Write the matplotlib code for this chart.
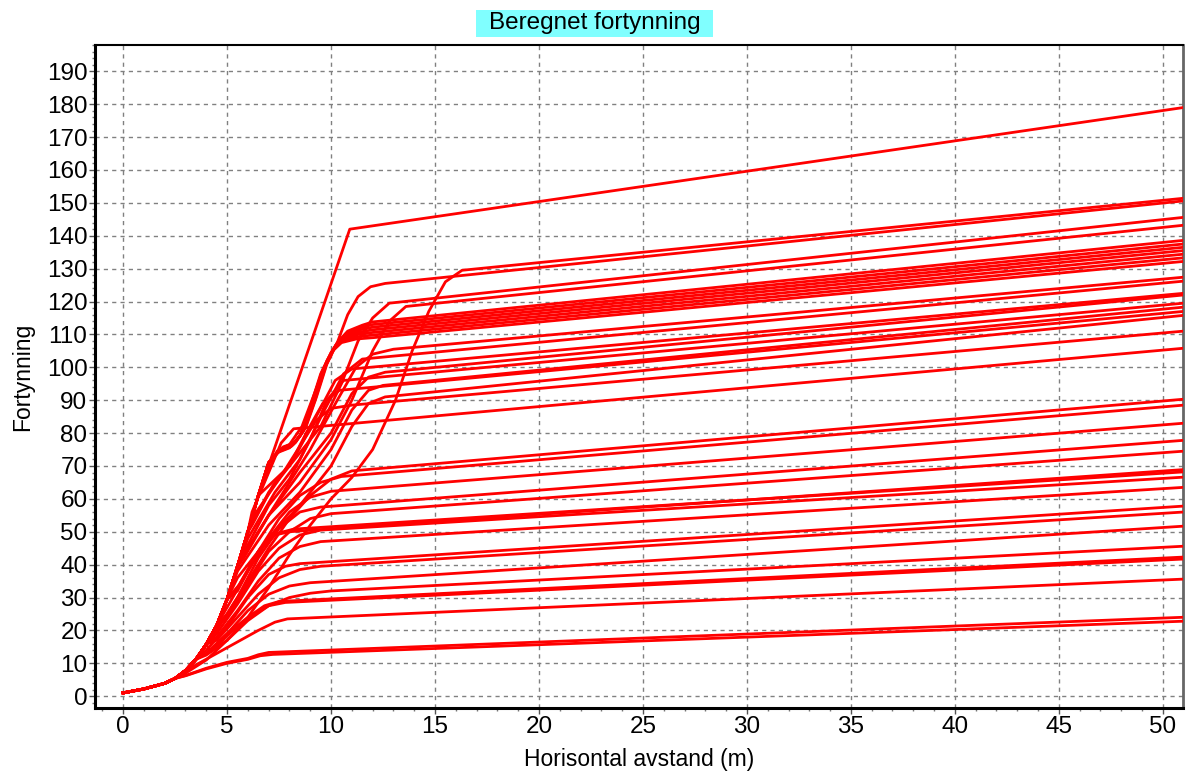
# Beregnet fortynning - dilution vs horizontal distance, one red curve per case
import matplotlib
matplotlib.use('Agg')
import matplotlib.pyplot as plt
from matplotlib.patches import Rectangle
from matplotlib.ticker import MultipleLocator

plt.rcParams['font.family'] = ['Liberation Sans', 'DejaVu Sans']

# shared steep start that most curves follow before they bend off
trunk_x = [0, 1, 2, 2.5, 3, 3.5, 4, 4.5, 5, 5.5, 6, 6.5, 7]
trunk_y = [1, 2.2, 3.9, 5.4, 7.8, 11.2, 15.8, 21.5, 29.5, 39.5, 50, 61, 71]

# x where each curve leaves the trunk, own points after that, value at end of range
leave_x = [6.5,
           7, 7, 7, 7, 7, 7, 7,
           2.5, 6.5, 6.5, 5.5,
           5.5, 5.5, 6, 5.5, 5.5, 5, 6, 5, 6, 6,
           4.5, 5, 4.5, 4, 4.5, 5, 5, 4, 4, 3.5, 4, 3.5, 3.5, 3.5, 4, 3, 2.5, 2.5]

path_x = [
    [10.9],
    [7.4, 8.0, 8.5, 9.0, 9.5, 10.0, 10.5, 11.2, 12.0],
    [7.45, 8.05, 8.55, 9.05, 9.55, 10.05, 10.55, 11.25, 12.0],
    [7.5, 8.1, 8.6, 9.1, 9.6, 10.1, 10.6, 11.3, 12.0],
    [7.55, 8.15, 8.65, 9.15, 9.65, 10.15, 10.65, 11.35, 12.0],
    [7.6, 8.2, 8.7, 9.2, 9.7, 10.2, 10.7, 11.4, 12.0],
    [7.65, 8.25, 8.75, 9.25, 9.75, 10.25, 10.75, 11.45, 12.0],
    [7.7, 8.3, 8.8, 9.3, 9.8, 10.3, 10.8, 11.5, 12.0],
    [3, 4, 5, 6, 7, 8, 9, 10, 11, 12, 13.1, 13.9, 14.7, 15.5, 16.3],
    [7.4, 8.0, 8.6, 9.2, 9.8, 10.3, 10.8, 11.3, 11.9, 12.6],
    [8, 9.5, 10.5, 11.3, 12, 12.8],
    [7, 8.5, 10, 11, 12, 12.8, 13.6],
    [6, 7.5, 9, 10.3, 11.2, 12, 13],
    [6, 7.3, 8.5, 9.6, 10.6, 11.5],
    [6.2, 7.2, 8.2, 9.2, 10.2, 11],
    [5.8, 7, 8.5, 10, 11, 11.8, 12.6],
    [6, 7, 8, 9, 9.8, 10.6],
    [5.5, 7, 8.5, 10, 11, 11.8, 12.5],
    [6, 7, 8, 8.8, 9.6, 10.4],
    [5.5, 7, 8.5, 10, 11, 11.8, 12.6],
    [6.3, 7.5, 8.5, 9.3, 10, 11],
    [6.2, 7, 7.6, 8.2],
    [5, 6, 7, 8, 9, 10, 11],
    [5.5, 6.5, 7.5, 8.5, 9.5, 10.5],
    [5, 6, 7, 8, 9, 10],
    [4.5, 5.5, 6.5, 7.5, 8.5, 9.5],
    [5, 6, 7, 8, 9, 10],
    [5.5, 6.5, 7.3, 8],
    [5.6, 6.6, 7.4, 8.2],
    [4.5, 5.5, 6.5, 7.5, 8.5, 9.5],
    [4.5, 5.5, 6.5, 7.5, 8.5, 9.5],
    [4, 5, 6, 7, 7.8, 8.5],
    [4.5, 5.5, 6.5, 7.5, 8.5, 9.5],
    [4, 5, 6, 7, 8, 9],
    [4, 5, 6, 7, 8, 9, 10],
    [4, 5, 6, 6.8, 7.5],
    [4.2, 5.2, 6.2, 7, 7.8],
    [3.5, 4.5, 5.5, 6.5, 7.3, 7.9],
    [3, 4, 5, 6, 6.5, 7],
    [3, 4, 5, 6, 6.6, 7.2],
]
path_y = [
    [142],
    [74.0, 75.5, 79, 88, 98, 104.5, 107.5, 108.6, 109.0],
    [74.3, 75.8, 79.5, 88.5, 98.5, 105, 108, 109.3, 109.8],
    [74.6, 76.0, 80, 89, 99, 105.5, 108.6, 110.0, 110.6],
    [74.9, 76.3, 80.5, 89.5, 99.5, 106, 109.2, 110.7, 111.4],
    [75.2, 76.6, 81, 90, 100, 106.5, 109.8, 111.4, 112.2],
    [75.5, 76.9, 81.5, 90.5, 100.5, 107, 110.4, 112.1, 113.0],
    [75.8, 77.2, 82, 91, 101, 107.5, 111.0, 112.8, 113.8],
    [7, 11, 17, 24, 33, 43, 52, 60, 66.5, 75, 90, 105, 117, 126, 129.5],
    [74.5, 76.5, 82, 92, 102, 107.5, 116, 121.5, 124.5, 125.5],
    [70, 82, 95, 108, 115, 119.5],
    [55, 65, 78, 90, 105, 114, 118.5],
    [45, 60, 75, 90, 100, 104, 105.5],
    [48, 62, 72, 86, 98, 102.5],
    [52, 64, 72, 84, 96, 99.5],
    [42, 55, 68, 80, 92, 97, 98.5],
    [46, 58, 66, 78, 90, 96],
    [38, 52, 62, 75, 87, 93, 94.5],
    [50, 62, 70, 80, 89, 93],
    [36, 48, 58, 70, 82, 89, 91],
    [55, 66, 76, 84, 87.5, 88.5],
    [56, 68, 77, 81.3],
    [25, 35, 45, 54, 61, 66, 68.5],
    [32, 44, 54, 61, 65, 66.8],
    [27, 38, 48, 56, 60.5, 62.3],
    [20, 30, 42, 51, 56, 57.5],
    [24, 34, 44, 50, 54, 55.5],
    [33, 44, 49, 50],
    [34, 45, 49.5, 50.8],
    [19, 28, 38, 45, 49, 50.5],
    [18, 26, 35, 42, 45.5, 47],
    [14, 21, 30, 37, 39.5, 40.3],
    [17, 24, 31, 36, 38.5, 39.5],
    [13, 19, 26, 31, 33.5, 34.5],
    [12.5, 17, 23, 27.5, 30, 31.3, 32],
    [13, 19, 24, 27.5, 28.8],
    [13.5, 19.5, 24.5, 27.5, 28.5],
    [9.5, 13, 16.5, 20, 22.5, 23.5],
    [6.3, 8.5, 10.3, 11.5, 12.6, 13.3],
    [6.2, 8.3, 10.0, 11.2, 12.3, 12.7],
]
end_y = [179,
         132.2, 133.3, 134.4, 135.5, 136.5, 137.5, 138.6,
         151.4, 150.6, 145.6, 143.2,
         127.4, 126.2, 122.5, 122.0, 119.5, 118.3, 117.0, 115.8, 111.0, 105.8,
         90.3, 88.5, 83.0, 77.8, 74.5, 68.9, 68.2, 66.6, 63.5, 57.8, 56.0, 51.7,
         45.6, 42.3, 41.7, 35.6, 24.0, 22.8]
x_end = 51.0

fig = plt.figure(figsize=(11.97, 7.76), dpi=100)
ax = fig.add_axes([0.0794, 0.0876, 0.9089, 0.8544])

for lx, px, py, ye in zip(leave_x, path_x, path_y, end_y):
    xs = [x for x in trunk_x if x <= lx]
    ys = trunk_y[:len(xs)]
    ax.plot(xs + px + [x_end], ys + py + [ye], color='#ff0000', lw=2.0,
            solid_joinstyle='round', zorder=3)

ax.set_xlim(-1.35, 50.97)
ax.set_ylim(-3.6, 198)
ax.xaxis.set_major_locator(MultipleLocator(5))
ax.xaxis.set_minor_locator(MultipleLocator(1))
ax.yaxis.set_major_locator(MultipleLocator(10))
ax.yaxis.set_minor_locator(MultipleLocator(2))
ax.tick_params(which='major', length=4, width=1, pad=1.5, labelsize=17.5, color='#555555')
ax.tick_params(which='minor', length=2.5, width=1, color='#777777')
ax.grid(which='major', color='#808080', linestyle=(0, (3, 3)), linewidth=1)

for s in ['left', 'bottom']:
    ax.spines[s].set_linewidth(2.2)
ax.spines['top'].set_linewidth(1.5)
ax.spines['right'].set_linewidth(2.0)
ax.spines['right'].set_color('#666666')

ax.set_xlabel('Horisontal avstand (m)', fontsize=16.5, va='center')
ax.xaxis.set_label_coords(0.5, -0.078)
ax.set_ylabel('Fortynning', fontsize=16.5, va='center')
ax.yaxis.set_label_coords(-0.067, 0.5)

# title sits in a cyan box above the plot
fig.patches.append(Rectangle((476 / 1197, 1 - 37 / 776), 237 / 1197, 27 / 776,
                             transform=fig.transFigure, facecolor='#80ffff',
                             edgecolor='none'))
fig.text(594.5 / 1197, 1 - 23.5 / 776, 'Beregnet fortynning', ha='center', va='center',
         fontsize=17.5)

fig.savefig('out.png', dpi=100)
